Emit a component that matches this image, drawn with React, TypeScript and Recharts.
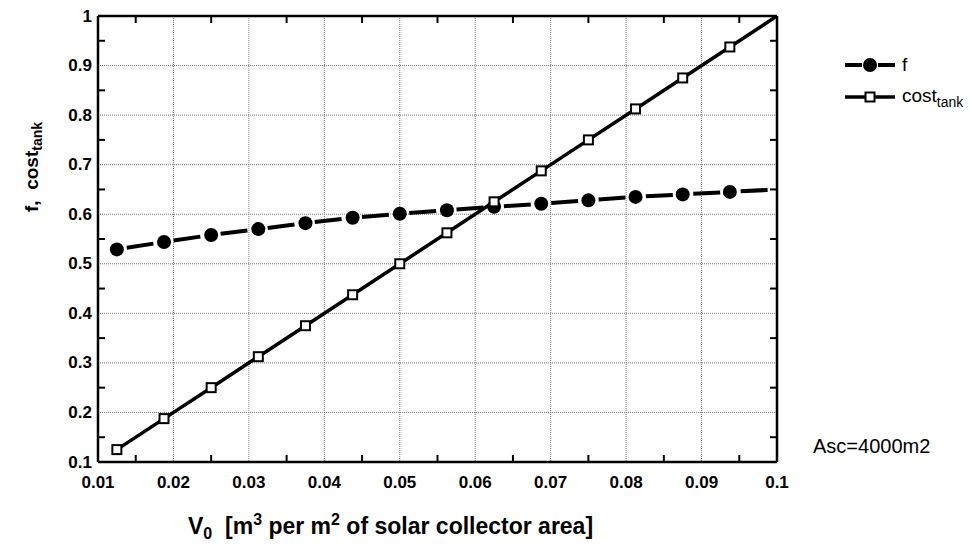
import React from 'react';
import {
  LineChart, Line, XAxis, YAxis, CartesianGrid, Legend,
} from 'recharts';

const V0 = [0.0125, 0.01875, 0.025, 0.03125, 0.0375, 0.04375, 0.05, 0.05625, 0.0625, 0.06875, 0.075, 0.08125, 0.0875, 0.09375, 0.1];
const F_VALUES = [0.529, 0.544, 0.558, 0.570, 0.582, 0.593, 0.601, 0.608, 0.615, 0.621, 0.628, 0.635, 0.640, 0.645, 0.650];
const COST_TANK = [0.125, 0.1875, 0.25, 0.3125, 0.375, 0.4375, 0.5, 0.5625, 0.625, 0.6875, 0.75, 0.8125, 0.875, 0.9375, 1.0];

const X_MAJOR = [0.01, 0.02, 0.03, 0.04, 0.05, 0.06, 0.07, 0.08, 0.09, 0.1];
const X_MINOR = [0.015, 0.025, 0.035, 0.045, 0.055, 0.065, 0.075, 0.085, 0.095];
const Y_MAJOR = [0.1, 0.2, 0.3, 0.4, 0.5, 0.6, 0.7, 0.8, 0.9, 1];
const Y_MINOR = [0.15, 0.25, 0.35, 0.45, 0.55, 0.65, 0.75, 0.85, 0.95];

const FONT = '"Liberation Sans", Arial, Helvetica, sans-serif';
const TICK_LEN = 7;

const data = V0.map((x, i) => ({ x, f: F_VALUES[i], cost: COST_TANK[i] }));
const lastIndex = V0.length - 1;

const fmt = (v: number) => String(Number(v.toFixed(3)));

// bottom axis: labels on majors, short inward ticks on minors
const BottomTick = (props: any) => {
  const { x, y, payload } = props;
  if (X_MINOR.includes(payload.value)) {
    return <line x1={x} y1={y} x2={x} y2={y - TICK_LEN} stroke="#000" strokeWidth={2} />;
  }
  return (
    <text x={x} y={y + 20} textAnchor="middle" dominantBaseline="central"
      fontFamily={FONT} fontWeight="bold" fontSize={17} fill="#000">
      {fmt(payload.value)}
    </text>
  );
};

const LeftTick = (props: any) => {
  const { x, y, payload } = props;
  if (Y_MINOR.includes(payload.value)) {
    return <line x1={x} y1={y} x2={x + TICK_LEN} y2={y} stroke="#000" strokeWidth={2} />;
  }
  return (
    <text x={x - 6} y={y} textAnchor="end" dominantBaseline="central"
      fontFamily={FONT} fontWeight="bold" fontSize={17} fill="#000">
      {fmt(payload.value)}
    </text>
  );
};

const TopTick = ({ x, y }: any) => (
  <line x1={x} y1={y} x2={x} y2={y + TICK_LEN} stroke="#000" strokeWidth={2} />
);

const RightTick = ({ x, y }: any) => (
  <line x1={x} y1={y} x2={x - TICK_LEN} y2={y} stroke="#000" strokeWidth={2} />
);

const CircleDot = (props: any) => {
  const { cx, cy, index } = props;
  if (index === lastIndex) return <g key={`f-${index}`} />;
  return <circle key={`f-${index}`} cx={cx} cy={cy} r={7} fill="#000" />;
};

const SquareDot = (props: any) => {
  const { cx, cy, index } = props;
  if (index === lastIndex) return <g key={`c-${index}`} />;
  return (
    <rect key={`c-${index}`} x={cx - 4.5} y={cy - 4.5} width={9} height={9}
      fill="#fff" stroke="#000" strokeWidth={2} />
  );
};

const LegendContent = () => (
  <div style={{ fontFamily: FONT, fontSize: 19, color: '#000' }}>
    <div style={{ display: 'flex', alignItems: 'center', height: 32 }}>
      <svg width={57} height={20}>
        <line x1={0} y1={10} x2={17} y2={10} stroke="#000" strokeWidth={4} />
        <circle cx={25} cy={10} r={7} fill="#000" />
        <line x1={33} y1={10} x2={50} y2={10} stroke="#000" strokeWidth={4} />
      </svg>
      <span>f</span>
    </div>
    <div style={{ display: 'flex', alignItems: 'center', height: 32 }}>
      <svg width={57} height={20}>
        <line x1={0} y1={10} x2={50} y2={10} stroke="#000" strokeWidth={3.5} />
        <rect x={20.5} y={5.5} width={9} height={9} fill="#fff" stroke="#000" strokeWidth={2} />
      </svg>
      <span>cost<sub style={{ fontSize: 14 }}>tank</sub></span>
    </div>
  </div>
);

const AXIS_LINE = { stroke: '#000', strokeWidth: 2.5 };

export default function App() {
  return (
    <div style={{ position: 'absolute', left: 0, top: 0, width: 970, height: 547, background: '#fff', fontFamily: FONT }}>
      <LineChart width={970} height={547} data={data}
        margin={{ top: 15, right: 192, bottom: 84, left: 97 }}>
        <CartesianGrid stroke="#777" strokeDasharray="1 1" strokeWidth={1}
          horizontalValues={Y_MAJOR.slice(1, -1)} verticalValues={X_MAJOR.slice(1, -1)} />
        <XAxis dataKey="x" type="number" domain={[0.01, 0.1]} allowDataOverflow
          ticks={[...X_MAJOR, ...X_MINOR]} interval={0} height={1}
          tickSize={0} tickMargin={0} tickLine={false} tick={BottomTick}
          axisLine={AXIS_LINE} />
        <XAxis xAxisId="top" orientation="top" dataKey="x" type="number" domain={[0.01, 0.1]} allowDataOverflow
          ticks={X_MINOR} interval={0} height={1} tickSize={0} tickMargin={0}
          tickLine={false} tick={TopTick} axisLine={AXIS_LINE} />
        <YAxis type="number" domain={[0.1, 1]} allowDataOverflow
          ticks={[...Y_MAJOR, ...Y_MINOR]} interval={0} width={1}
          tickSize={0} tickMargin={0} tickLine={false} tick={LeftTick}
          axisLine={AXIS_LINE} />
        <YAxis yAxisId="right" orientation="right" type="number" domain={[0.1, 1]} allowDataOverflow
          ticks={Y_MINOR} interval={0} width={1} tickSize={0} tickMargin={0}
          tickLine={false} tick={RightTick} axisLine={AXIS_LINE} />
        <Legend layout="vertical" align="center" verticalAlign="middle"
          content={<LegendContent />}
          wrapperStyle={{ left: 845, top: 49, width: 125, right: 'auto', bottom: 'auto' }} />
        <Line type="linear" dataKey="f" stroke="#000" strokeWidth={4}
          strokeDasharray="27 20.45" strokeDashoffset={37.45}
          dot={CircleDot} activeDot={false} isAnimationActive={false} />
        <Line type="linear" dataKey="cost" stroke="#000" strokeWidth={3.5}
          dot={SquareDot} activeDot={false} isAnimationActive={false} />
      </LineChart>

      <div style={{
        position: 'absolute', left: 33, top: 167, transform: 'translate(-50%, -50%) rotate(-90deg)',
        whiteSpace: 'nowrap', fontSize: 19, fontWeight: 'bold', lineHeight: 1,
      }}>
        f,&nbsp;&nbsp;cost<sub style={{ fontSize: 14 }}>tank</sub>
      </div>

      <div style={{
        position: 'absolute', left: 188, top: 512, whiteSpace: 'nowrap',
        fontSize: 23, fontWeight: 'bold', lineHeight: 1,
      }}>
        V<sub style={{ fontSize: 16 }}>0</sub>&nbsp;&nbsp;[m<sup style={{ fontSize: 16 }}>3</sup> per m<sup style={{ fontSize: 16 }}>2</sup> of solar collector area]
      </div>

      <div style={{
        position: 'absolute', left: 813, top: 446, transform: 'translateY(-50%)',
        whiteSpace: 'nowrap', fontSize: 20, lineHeight: 1,
      }}>
        Asc=4000m2
      </div>
    </div>
  );
}
